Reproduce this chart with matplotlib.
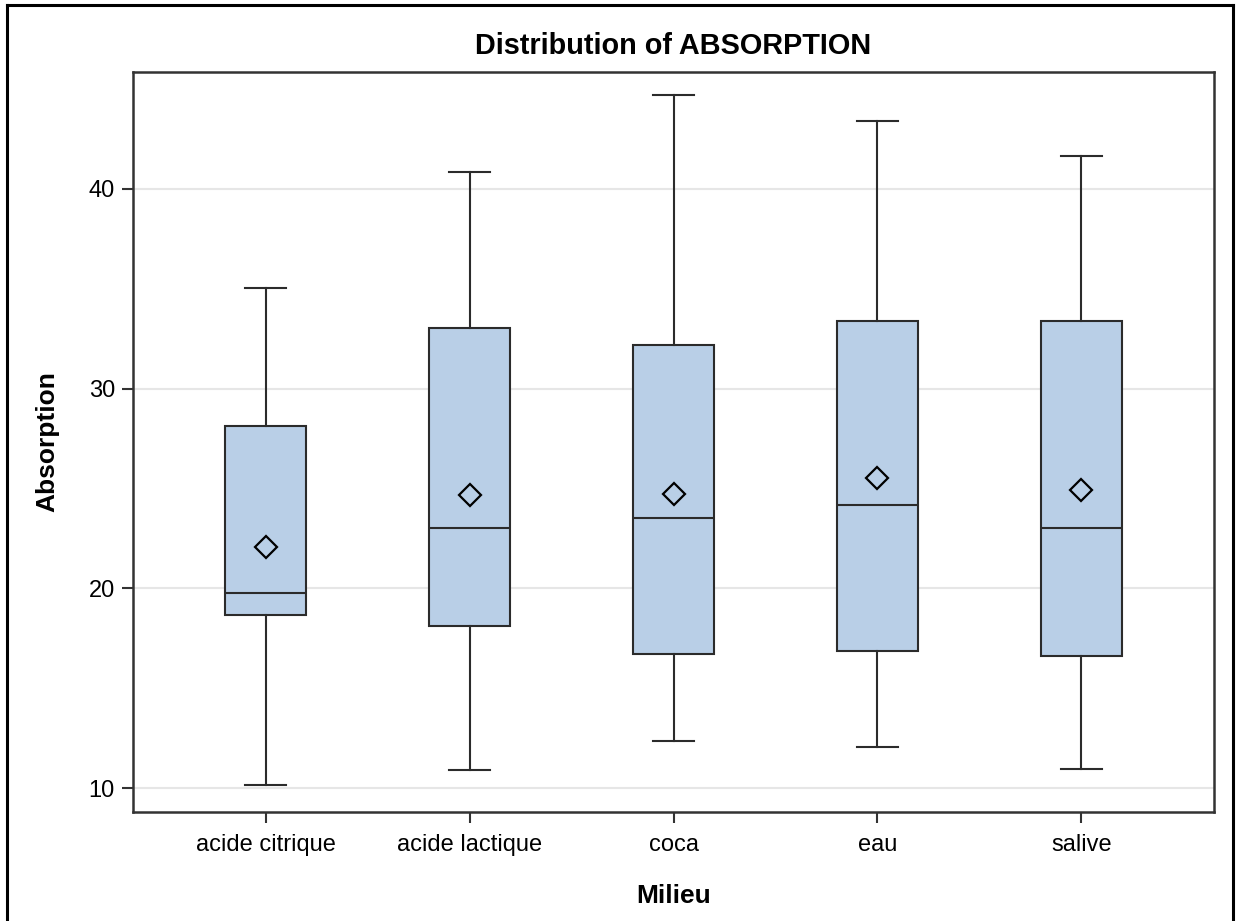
import matplotlib
matplotlib.use("Agg")
import matplotlib.pyplot as plt
from matplotlib.lines import Line2D

categories = ["acide citrique", "acide lactique", "coca", "eau", "salive"]
whisker_low = [10.15, 10.9, 12.35, 12.05, 10.95]
q1 = [18.65, 18.1, 16.7, 16.85, 16.6]
median = [19.75, 23.0, 23.5, 24.15, 23.0]
q3 = [28.15, 33.05, 32.2, 33.4, 33.4]
whisker_high = [35.05, 40.85, 44.7, 43.4, 41.65]
mean = [22.05, 24.65, 24.7, 25.5, 24.9]
yticks = [10, 20, 30, 40]

plt.rcParams['font.family'] = ['Liberation Sans', 'DejaVu Sans']

fig = plt.figure(figsize=(12.36, 9.21), dpi=100)
ax = fig.add_axes([133/1236, 1 - 812/921, (1214-133)/1236, (812-72)/921])

stats = []
for i, c in enumerate(categories):
    stats.append(dict(label=c, whislo=whisker_low[i], q1=q1[i], med=median[i],
                      q3=q3[i], whishi=whisker_high[i], mean=mean[i], fliers=[]))

edge = '#2b2b2b'
ax.bxp(stats, positions=range(len(categories)), widths=0.4, patch_artist=True,
       showmeans=True, showfliers=False,
       boxprops=dict(facecolor='#b9cfe7', edgecolor=edge, linewidth=1.5),
       medianprops=dict(color=edge, linewidth=1.5),
       whiskerprops=dict(color=edge, linewidth=1.5),
       capprops=dict(color=edge, linewidth=1.5),
       capwidths=0.2,
       meanprops=dict(marker='D', markerfacecolor='none', markeredgecolor='black',
                      markersize=11, markeredgewidth=1.6),
       zorder=3)

ax.set_xlim(-0.65, 4.65)
ax.set_ylim(8.8, 45.85)
ax.set_yticks(yticks)
ax.set_xticks(range(len(categories)))
ax.set_xticklabels(categories)
ax.yaxis.grid(True, color='#e6e6e6', linewidth=1.5, zorder=0)
ax.set_axisbelow(True)
for s in ax.spines.values():
    s.set_linewidth(1.8)
    s.set_color('#333333')
ax.tick_params(axis='both', length=8, width=1.5, color='#333333', labelsize=17)
ax.tick_params(axis='y', pad=5)
ax.tick_params(axis='x', pad=8)
ax.set_ylabel('Absorption', fontsize=19, fontweight='bold', labelpad=21)
ax.set_xlabel('Milieu', fontsize=19, fontweight='bold', labelpad=20)
ax.set_title('Distribution of ABSORPTION', fontsize=20.8, fontweight='bold', pad=13)

# outer border
fig.add_artist(Line2D([7/1236, 7/1236], [0, 1 - 5/921], transform=fig.transFigure, color='black', lw=2.2))
fig.add_artist(Line2D([1233/1236, 1233/1236], [0, 1 - 5/921], transform=fig.transFigure, color='black', lw=2.2))
fig.add_artist(Line2D([7/1236, 1233/1236], [1 - 5/921, 1 - 5/921], transform=fig.transFigure, color='black', lw=2.2))

fig.savefig('out.png', dpi=100)
